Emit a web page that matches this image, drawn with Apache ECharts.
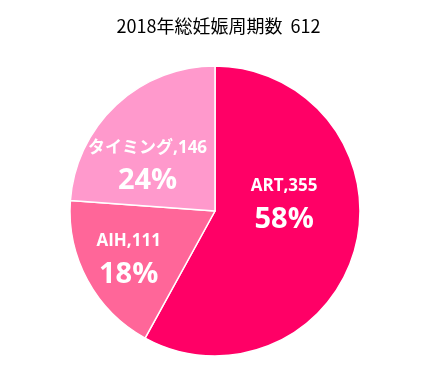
<!DOCTYPE html>
<html><head><meta charset="utf-8">
<script src="https://cdn.jsdelivr.net/npm/echarts@6/dist/echarts.min.js"></script>
<style>html,body{margin:0;padding:0;background:#fff}#c{width:437px;height:367px}</style>
</head><body><div id="c"></div>
<script>
var categories = ['ART', 'AIH', 'タイミング'];
var values = [355, 111, 146];
var titleText = '2018年総妊娠周期数  612';

var colors = ['#FF0066', '#FF6699', '#FF99CC'];
var labelOffsets = [[-4, -27], [-20, 11], [-16, 9]];

var data = categories.map(function (c, i) {
  return {
    name: c, value: values[i],
    itemStyle: { color: colors[i] },
    label: { offset: labelOffsets[i] }
  };
});

var chart = echarts.init(document.getElementById('c'));
chart.setOption({
  animation: false,
  title: {
    text: titleText, left: 'center', top: 12,
    textStyle: { fontFamily: '"Noto Sans CJK JP", "Open Sans", sans-serif', fontSize: 18, fontWeight: 'normal', color: '#000' }
  },
  series: [{
    type: 'pie',
    center: [215, 211],
    radius: [0, 145],
    startAngle: 90,
    clockwise: true,
    itemStyle: { borderColor: '#fff', borderWidth: 1.5 },
    label: {
      show: true, position: 'inside',
      formatter: function (p) { return '{a|' + p.name + ',' + p.value + '}\n{b|' + Math.round(p.percent) + '%}'; },
      rich: {
        a: { fontFamily: '"Open Sans", "Noto Sans CJK JP", sans-serif', fontSize: 17, fontWeight: 'bold', color: '#fff', lineHeight: 33 },
        b: { fontFamily: '"Open Sans", sans-serif', fontSize: 29, fontWeight: 'bold', color: '#fff', lineHeight: 33 }
      }
    },
    labelLine: { show: false },
    data: data
  }]
});
</script></body></html>
